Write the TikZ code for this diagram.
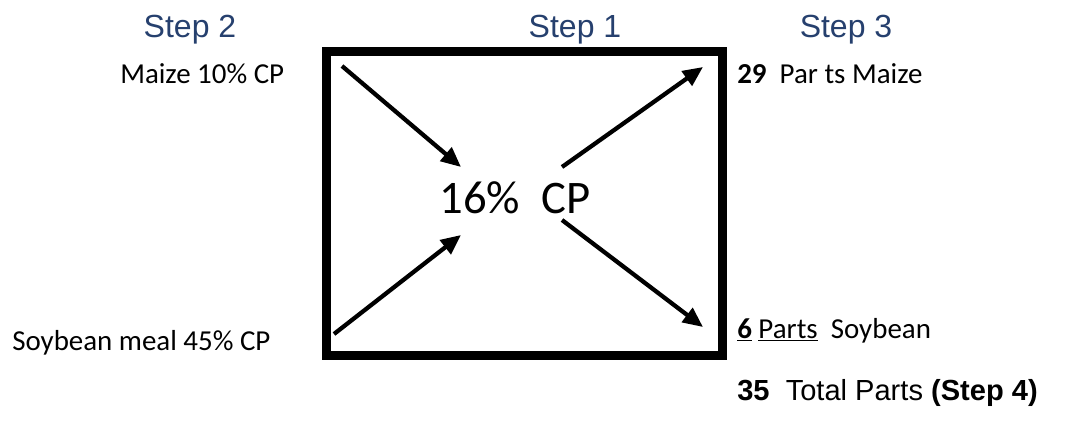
\documentclass[tikz,border=0pt]{standalone}
\usepackage{fontspec}
\setmainfont{Carlito}
\newfontfamily\arialfont{Liberation Sans}
\usepackage{tikz}
\usepackage{xcolor}
\usetikzlibrary{arrows.meta}
\definecolor{stepblue}{RGB}{38,64,110}

\begin{document}
\begin{tikzpicture}[
  x=0.75pt, y=-0.75pt,
  krok/.style={font=\arialfont\fontsize{24}{28}\selectfont, text=stepblue, anchor=base, inner sep=0pt},
  pasza/.style={font=\fontsize{21.7}{26}\selectfont, anchor=base west, inner sep=0pt},
  strz/.style={line width=3.2pt, -{Triangle[length=15pt,width=13pt]}},
]
\useasboundingbox (0,0) rectangle (1070,425);
% naglowki krokow
\node[krok] (k2) at (190,37) {Step 2};
\node[krok] (k1) at (575,37) {Step 1};
\node[krok] (k3) at (846,37) {Step 3};
% ramka z docelowym bialkiem
\node[draw, line width=6.75pt, minimum width=297pt, minimum height=228pt, inner sep=0pt] (ramka) at (524.5,203.5) {};
\node[font=\fontsize{35}{40}\selectfont, inner sep=0pt] (cel) at (515,198) {16\%\ \ CP};
% skladniki po lewej
\node[pasza] (kuk) at (120,83) {Maize 10\% CP};
\node[pasza] (soja) at (12,350) {Soybean meal 45\% CP};
% wyniki po prawej
\node[pasza] (czk) at (737,83) {\textbf{29}\ \ Par ts Maize};
\node[pasza] (czs) at (737,338) {\underline{\textbf{6}} \underline{Parts}\ \ Soybean};
\node[font=\arialfont\fontsize{21.8}{26}\selectfont, anchor=base west, inner sep=0pt] (suma) at (737,400) {\textbf{35}\ \ Total Parts \textbf{(Step 4)}};
% strzalki w ramce
\coordinate (a1) at (342,66);  \coordinate (b1) at (461,167);
\coordinate (a2) at (334,334); \coordinate (b2) at (461,235);
\coordinate (a3) at (562,167); \coordinate (b3) at (703,67);
\coordinate (a4) at (562,220); \coordinate (b4) at (703,327);
\draw[strz] (a1) -- (b1);
\draw[strz] (a2) -- (b2);
\draw[strz] (a3) -- (b3);
\draw[strz] (a4) -- (b4);
\end{tikzpicture}
\end{document}
